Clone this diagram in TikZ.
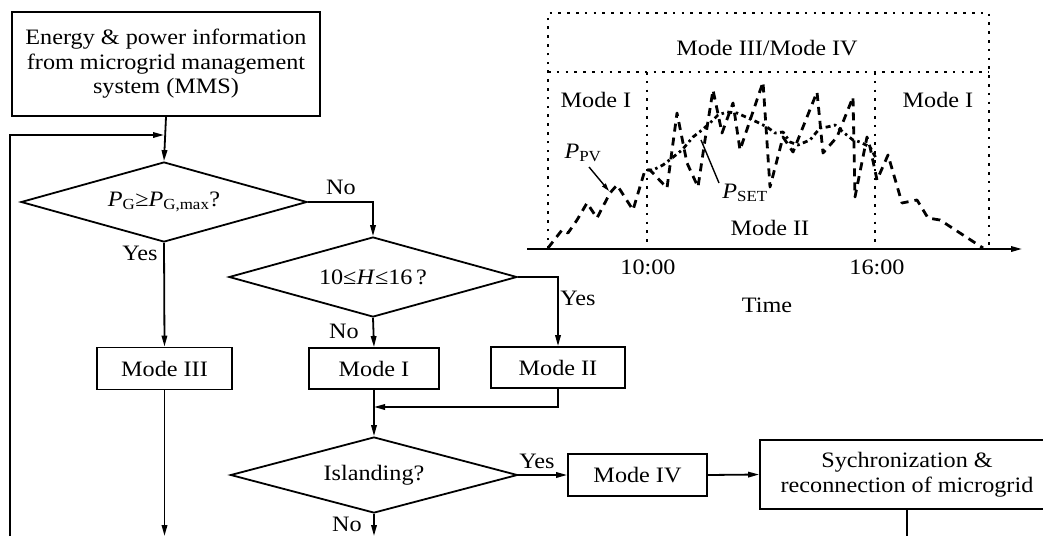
\documentclass[tikz,border=0pt]{standalone}
\usepackage{fontspec}
\setmainfont{Liberation Serif}[FakeStretch=1.1]
\usetikzlibrary{arrows.meta,shapes.geometric}

\tikzset{
  flow/.style={line width=1.8pt},
  arr/.style={flow, -{Triangle[length=11pt,width=5.5pt]}},
  proc/.style={draw, line width=1.8pt, fill=white, inner sep=0pt, align=center,
    font=\fontsize{22}{24.5}\selectfont},
  decision/.style={draw, diamond, line width=1.8pt, inner sep=0pt, aspect=3.6,
    font=\fontsize{22}{24.5}\selectfont},
  lbl/.style={inner sep=0pt, font=\fontsize{22}{24}\selectfont},
  grid dots/.style={line width=2.6pt, dash pattern=on 2.6pt off 6.2pt},
  pv curve/.style={line width=2.8pt, dash pattern=on 8pt off 6pt, line join=round},
  set curve/.style={line width=2.8pt, dash pattern=on 5pt off 3.5pt on 2.5pt off 3.5pt, line join=round},
}

\begin{document}
\begin{tikzpicture}[x=1pt, y=-1pt]
\useasboundingbox (0,0) rectangle (1043,536);

% ---------------- flowchart ----------------
\node[proc, minimum width=308pt, minimum height=104pt] (mms) at (166,64)
  {Energy \& power information\\from microgrid management\\system (MMS)};
\node[decision, minimum width=286pt, minimum height=80pt] (d1) at (164,202)
  {\textit{P}\textsubscript{G}≥\textit{P}\textsubscript{G,max}?};
\node[decision, minimum width=288pt, minimum height=80pt] (d2) at (373,277)
  {10≤\textit{H}≤16\,?};
\node[proc, minimum width=135pt, minimum height=42pt] (m3) at (164.5,368.5) {Mode III};
\node[proc, minimum width=130pt, minimum height=41pt] (m1) at (374,368.5) {Mode I};
\node[proc, minimum width=134pt, minimum height=41pt] (m2) at (558,367.5) {Mode II};
\node[decision, minimum width=287pt, minimum height=76pt] (d3) at (374,475) {Islanding?};
\node[proc, minimum width=139pt, minimum height=42pt] (m4) at (637.5,475) {Mode IV};
\node[proc, minimum width=294pt, minimum height=69pt] (sync) at (907,474.5)
  {Sychronization \&\\reconnection of microgrid};

\coordinate (fb) at (164,135);
\coordinate (loopt) at (10,135);
\coordinate (loopb) at (10,536);
\coordinate (join) at (374,407);
\coordinate (end3) at (164.5,536);
\coordinate (end1) at (374,536);
\coordinate (end2) at (907,536);

\draw[arr] (mms.south) -- (d1.north);
\draw[arr] (loopb) -- (loopt) -- (fb);
\draw[arr] (d1.east) -| (d2.north);
\draw[arr] (d1.south) -- (m3.north);
\draw[arr] (d2.east) -| (m2.north);
\draw[arr] (d2.south) -- (m1.north);
\draw[arr] (m2.south) |- (join);
\draw[arr] (m1.south) -- (d3.north);
\draw[arr] (d3.east) -- (m4.west);
\draw[arr] (m4.east) -- (sync.west);
\draw[arr] (m3.south) -- (end3);
\draw[arr] (d3.south) -- (end1);
\draw[flow] (sync.south) -- (end2);

\node[lbl] (no1) at (341,187) {No};
\node[lbl] (yes1) at (140,253) {Yes};
\node[lbl] (yes2) at (578,298) {Yes};
\node[lbl] (no2) at (344,331) {No};
\node[lbl] (yes3) at (537,461) {Yes};
\node[lbl] (no3) at (347,524) {No};

% ---------------- mode chart ----------------
\coordinate (c0) at (548,13);
\coordinate (c1) at (989,13);
\coordinate (c2) at (548,249);
\coordinate (c3) at (989,249);
\coordinate (h0) at (548,72);
\coordinate (h1) at (989,72);
\coordinate (v10t) at (647,72);
\coordinate (v10b) at (647,249);
\coordinate (v16t) at (875,72);
\coordinate (v16b) at (875,249);
\coordinate (ax0) at (527,249);
\coordinate (ax1) at (1022,249);

\draw[grid dots] (c2) -- (c0) -- (c1) -- (c3);
\draw[grid dots] (h0) -- (h1);
\draw[grid dots] (v10t) -- (v10b);
\draw[grid dots] (v16t) -- (v16b);

% PV output
\draw[pv curve] (548,248) -- (562,230) -- (568,233) -- (577,220) -- (587,203)
  -- (597,218) -- (610,193) -- (617,185) -- (633,210) -- (645,170) -- (650,170)
  -- (667,188) -- (677,113) -- (687,163) -- (698,187) -- (705,140) -- (713,90)
  -- (722,133) -- (733,103) -- (740,150) -- (763,82) -- (770,187) -- (783,137)
  -- (793,152) -- (817,92) -- (823,153) -- (837,137) -- (853,97) -- (855,197)
  -- (867,137) -- (870,147) -- (877,180) -- (888,155) -- (902,203) -- (917,200)
  -- (928,218) -- (940,220) -- (983,248);
% set-point
\draw[set curve] (647,170) -- (653,170) -- (663,165) -- (672,158) -- (682,150)
  -- (693,137) -- (702,130) -- (710,123) -- (718,115) -- (727,112) -- (737,113)
  -- (748,118) -- (757,122) -- (767,127) -- (775,133) -- (783,132) -- (790,142)
  -- (798,145) -- (810,140) -- (820,128) -- (827,127) -- (835,125) -- (843,132)
  -- (853,140) -- (860,142) -- (870,147) -- (877,160);

\draw[arr] (ax0) -- (ax1);

\node[lbl] (tm34) at (767,48) {Mode III/Mode IV};
\node[lbl] (tm1a) at (596,100) {Mode I};
\node[lbl] (tm1b) at (938,100) {Mode I};
\node[lbl] (tm2) at (770,228) {Mode II};
\node[lbl] (t10) at (648,267) {10:00};
\node[lbl] (t16) at (877,267) {16:00};
\node[lbl] (time) at (767,305) {Time};

\node[lbl] (ppv) at (583,153) {\textit{P}\textsubscript{PV}};
\node[lbl] (pset) at (745,193) {\textit{P}\textsubscript{SET}};
\coordinate (ppvtip) at (609,191);
\coordinate (psettip) at (701,140);
\draw[line width=1.4pt, -{Triangle[length=8pt,width=4.5pt]}] (589,167) -- (ppvtip);
\draw[line width=1.4pt] (719,183) -- (psettip);
\end{tikzpicture}
\end{document}
